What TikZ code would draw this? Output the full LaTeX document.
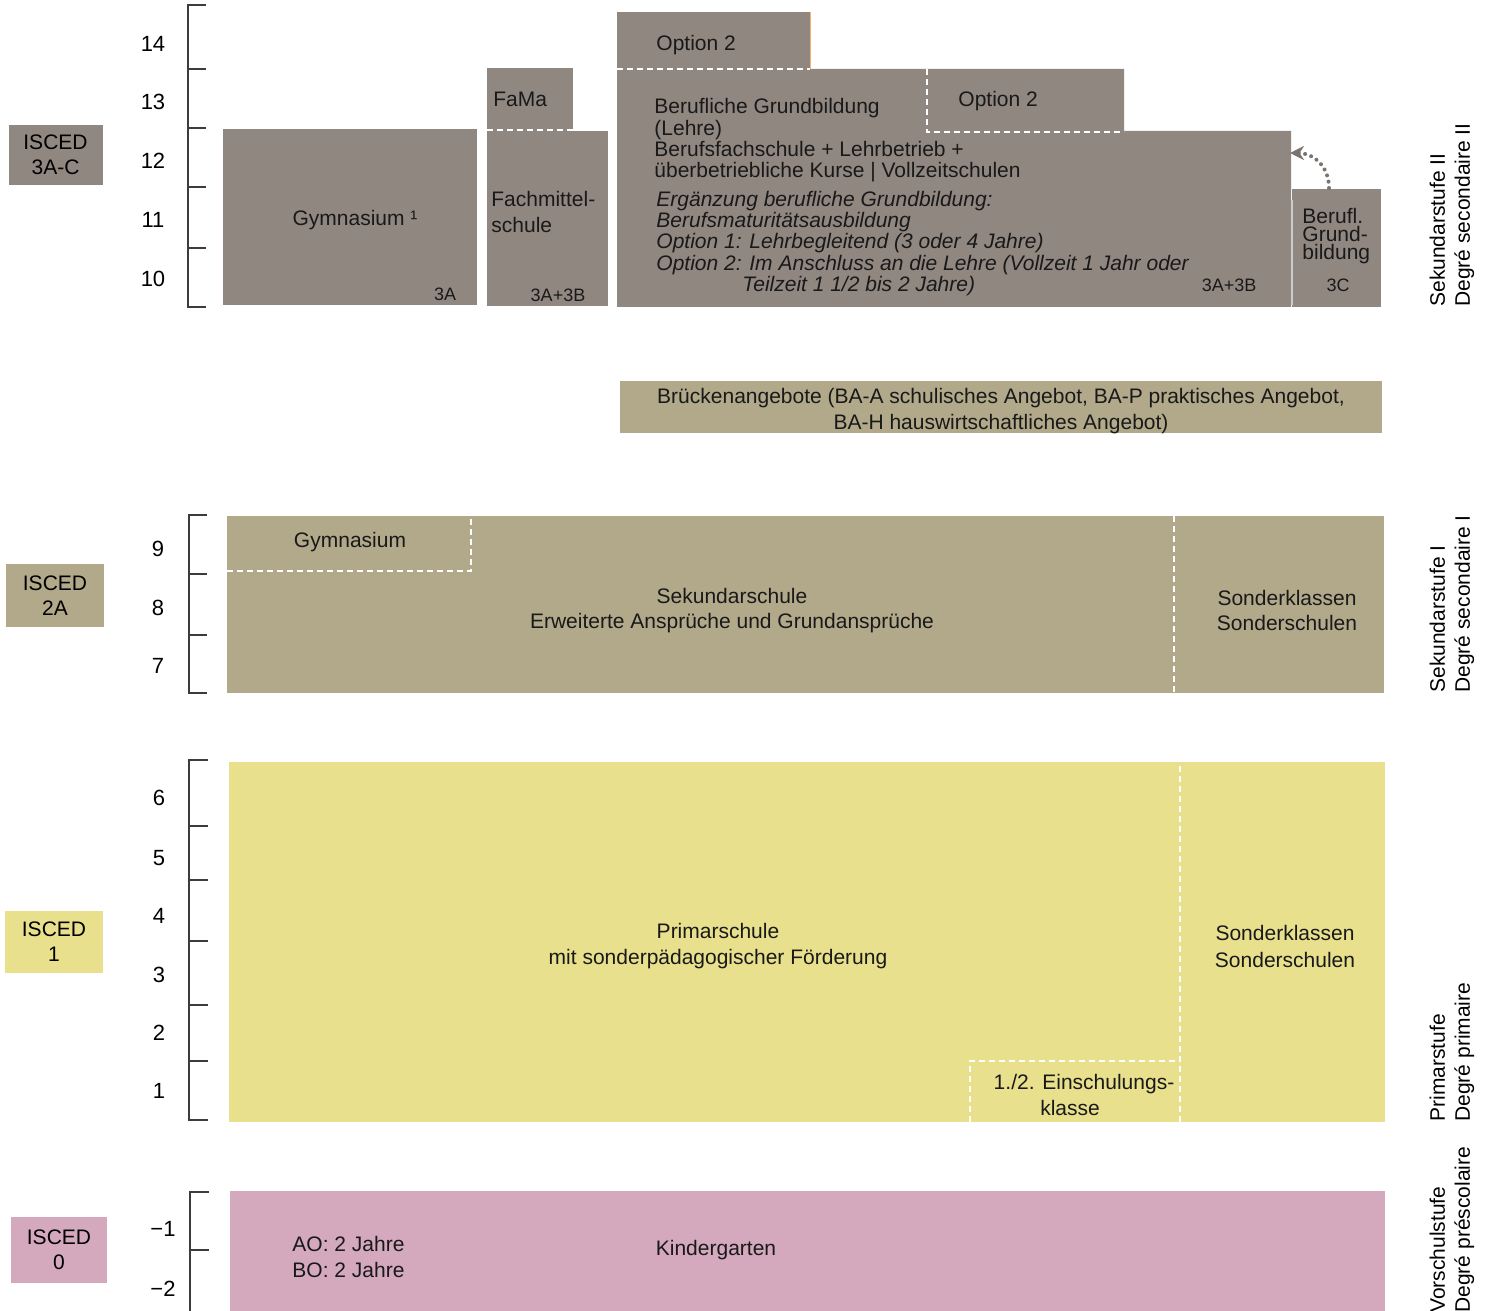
\documentclass[tikz,border=0pt]{standalone}
\usepackage{fontspec}
\setmainfont{Liberation Sans}
\usetikzlibrary{arrows.meta}

\definecolor{sgray}{HTML}{918781}
\definecolor{stan}{HTML}{B1A98A}
\definecolor{syellow}{HTML}{E8E08C}
\definecolor{spink}{HTML}{D4A9BD}
\definecolor{axisc}{HTML}{3C3C3C}

\begin{document}
\begin{tikzpicture}[
        x=0.5pt, y=-0.5pt,
        lbl/.style={
            inner sep=0pt,
            yshift=-1.2pt,
            text=black!90,
            font=\fontsize{10.5}{12.5}\selectfont
        },
        small/.style={
            inner sep=0pt,
            text=black!90,
            font=\fontsize{9}{10}\selectfont
        },
        year/.style={
            inner sep=0pt,
            yshift=-0.5pt,
            font=\fontsize{11}{12}\selectfont
        },
        isced/.style={
            rectangle,
            align=center,
            inner sep=0pt,
            minimum width=47pt,
            minimum height=30pt,
            font=\fontsize{10.5}{12.5}\selectfont
        },
        stage/.style={
            inner sep=0pt,
            rotate=90,
            anchor=west,
            align=left,
            font=\fontsize{10.5}{12.5}\selectfont
        },
        axis/.style={draw=axisc, line width=0.75pt},
        split/.style={draw=white, line width=1pt, dash pattern=on 3pt off 2pt},
        dotarrow/.style={
            draw=sgray!85!black,
            line width=2pt,
            line cap=round,
            dash pattern=on 0pt off 3.2pt,
            -{Stealth[length=7pt, width=7pt]}
        }
    ]
        \useasboundingbox (0,0) rectangle (1491,1310);

        % Sekundarstufe II
        \fill[sgray] (223,129) rectangle (477,305);
        \fill[sgray] (487,68) rectangle (573,131);
        \fill[sgray] (487,131) rectangle (608,306);
        \fill[sgray] (617,12) rectangle (810,69);
        \fill[sgray] (617,69) -- (1124,69) -- (1124,131) -- (1291,131)
            -- (1291,307) -- (617,307) -- cycle;
        \fill[sgray] (1292,189) rectangle (1381,307);
        \draw[orange!60, line width=0.5pt] (810,12) -- (810,69);
        \draw[black!20, line width=1pt] (1292,200) -- (1292,305);
        \draw[split] (487,130.5) -- (573,130.5);
        \draw[split] (617,69) -- (810,69);
        \draw[split] (927,69) -- (927,132) -- (1124,132);

        \node[isced, fill=sgray] (isc3) at (55.5,155) {ISCED\\3A-C};

        \draw[axis] (206,5) -- (188,5) -- (188,307) -- (206,307);
        \draw[axis] (188,69) -- (206,69);
        \draw[axis] (188,128) -- (206,128);
        \draw[axis] (188,187) -- (206,187);
        \draw[axis] (188,248) -- (206,248);
        \node[year] (y14) at (153,43) {14};
        \node[year] (y13) at (153,101) {13};
        \node[year] (y12) at (153,160) {12};
        \node[year] (y11) at (153,219) {11};
        \node[year] (y10) at (153,278) {10};

        \node[lbl] (gym) at (355,218) {Gymnasium ¹};
        \node[small] (gym3a) at (445,294) {3A};
        \node[lbl, anchor=west] (fama) at (493,97) {FaMa};
        \node[lbl, anchor=west, align=left, font=\fontsize{10.5}{13}\selectfont] (fms) at (491,210) {Fachmittel-\\schule};
        \node[small] (fms3ab) at (558,295) {3A+3B};
        \node[lbl, anchor=west] (opt2a) at (656,43) {Option 2};
        \node[lbl, anchor=west] (opt2b) at (958,99) {Option 2};
        \node[lbl, anchor=west, align=left, font=\fontsize{10.5}{10.6}\selectfont] (lehre) at (654,138)
            {Berufliche Grundbildung\\(Lehre)\\Berufsfachschule + Lehrbetrieb +\\überbetriebliche Kurse | Vollzeitschulen};
        \node[lbl, anchor=west, align=left, font=\fontsize{10.5}{10.6}\selectfont\itshape] (bms) at (656,241)
            {Ergänzung berufliche Grundbildung:\\Berufsmaturitätsausbildung\\Option 1: Lehrbegleitend (3 oder 4 Jahre)\\Option 2: Im Anschluss an die Lehre (Vollzeit 1 Jahr oder\\\hspace*{43pt}Teilzeit 1 1/2 bis 2 Jahre)};
        \node[small] (lehre3ab) at (1229,285) {3A+3B};
        \node[lbl, anchor=west, align=left, font=\fontsize{10.5}{9}\selectfont] (bgb) at (1302,234) {Berufl.\\Grund-\\bildung};
        \node[small] (bgb3c) at (1338,285) {3C};

        \coordinate (bgbtop) at (1329,188);
        \coordinate (lehreedge) at (1290,153);
        \draw[dotarrow] (bgbtop) .. controls (1329,165) and (1312,153) .. (lehreedge);

        \node[stage] (sek2) at (1452,307) {Sekundarstufe II\\Degré secondaire II};

        % Brueckenangebote
        \fill[stan] (620,381) rectangle (1382,433);
        \node[lbl, align=center, font=\fontsize{10.5}{13}\selectfont] (bruecke) at (1001,409)
            {Brückenangebote (BA-A schulisches Angebot, BA-P praktisches Angebot,\\BA-H hauswirtschaftliches Angebot)};

        % Sekundarstufe I
        \fill[stan] (227,516) rectangle (1384,693);
        \draw[split] (227,571) -- (471,571) -- (471,516);
        \draw[split] (1174,516) -- (1174,693);

        \node[isced, fill=stan, minimum width=49pt, minimum height=31.5pt] (isc2) at (55,595.5) {ISCED\\2A};

        \draw[axis] (207,515) -- (189,515) -- (189,693) -- (207,693);
        \draw[axis] (189,574) -- (207,574);
        \draw[axis] (189,635) -- (207,635);
        \node[year] (y9) at (158,548) {9};
        \node[year] (y8) at (158,607) {8};
        \node[year] (y7) at (158,665) {7};

        \node[lbl] (gym2) at (350,540) {Gymnasium};
        \node[lbl, align=center] (seks) at (732,608) {Sekundarschule\\Erweiterte Ansprüche und Grundansprüche};
        \node[lbl, align=center] (sond2) at (1287,608) {Sonderklassen\\Sonderschulen};

        \node[stage] (sek1) at (1452,693) {Sekundarstufe I\\Degré secondaire I};

        % Primarstufe
        \fill[syellow] (229,762) rectangle (1385,1122);
        \draw[split] (1180,766) -- (1180,1122);
        \draw[split] (970,1122) -- (970,1061) -- (1180,1061);

        \node[isced, fill=syellow, minimum width=49pt, minimum height=31pt] (isc1) at (54,942) {ISCED\\1};

        \draw[axis] (208,760) -- (189,760) -- (189,1120) -- (208,1120);
        \draw[axis] (189,826) -- (208,826);
        \draw[axis] (189,880) -- (208,880);
        \draw[axis] (189,941) -- (208,941);
        \draw[axis] (189,1005) -- (208,1005);
        \draw[axis] (189,1061) -- (208,1061);
        \node[year] (y6) at (159,797) {6};
        \node[year] (y5) at (159,857) {5};
        \node[year] (y4) at (159,915) {4};
        \node[year] (y3) at (159,974) {3};
        \node[year] (y2) at (159,1032) {2};
        \node[year] (y1) at (159,1090) {1};

        \node[lbl, align=center, font=\fontsize{10.5}{13}\selectfont] (prim) at (718,944) {Primarschule\\mit sonderpädagogischer Förderung};
        \node[lbl, align=center, font=\fontsize{10.5}{13.5}\selectfont] (sond1) at (1285,944) {Sonderklassen\\Sonderschulen};
        \node[lbl, align=center, font=\fontsize{10.5}{13}\selectfont] (einsch) at (1084,1093) {1./2. Einschulungs-\\klasse\hspace*{14pt}};

        \node[stage] (prims) at (1452,1122) {Primarstufe\\Degré primaire};

        % Vorschulstufe
        \fill[spink] (230,1191) rectangle (1385,1312);

        \node[isced, fill=spink, minimum width=48pt, minimum height=33pt] (isc0) at (59,1250) {ISCED\\0};

        \draw[axis] (209,1192) -- (190,1192) -- (190,1312);
        \draw[axis] (190,1250) -- (209,1250);
        \node[year] (ym1) at (163,1228) {−1};
        \node[year] (ym2) at (163,1288) {−2};

        \node[lbl, anchor=west, align=left, font=\fontsize{10.5}{13}\selectfont] (dauer) at (292,1255) {AO: 2 Jahre\\BO: 2 Jahre};
        \node[lbl] (kiga) at (716,1248) {Kindergarten};

        \node[stage] (vors) at (1452,1313) {Vorschulstufe\\Degré préscolaire};
    \end{tikzpicture}
\end{document}
